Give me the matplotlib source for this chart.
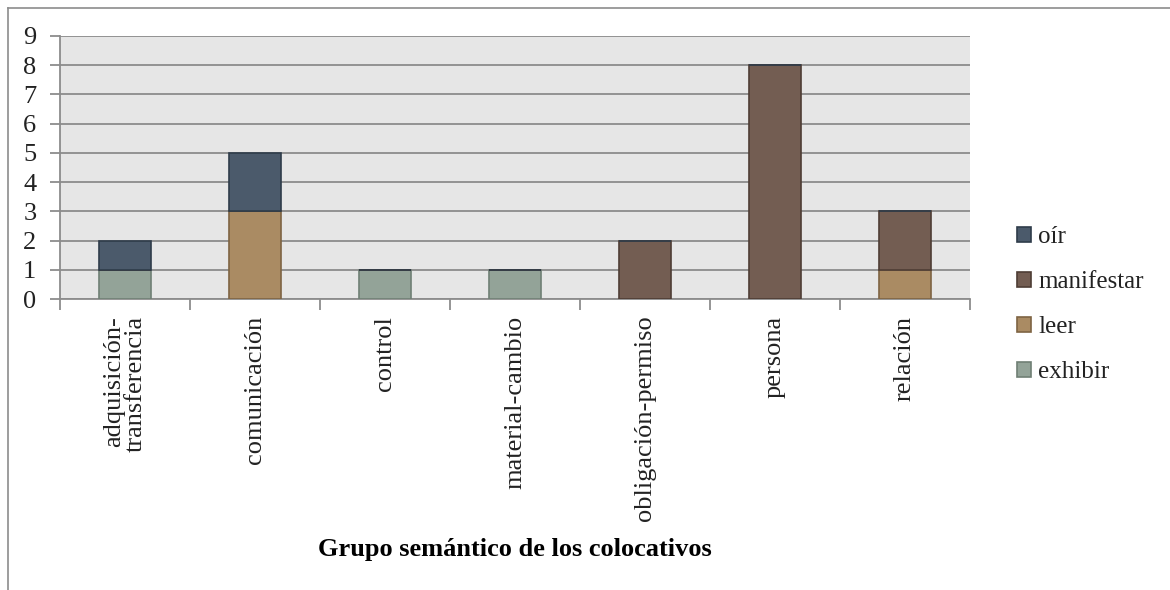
import matplotlib
matplotlib.use("Agg")
import matplotlib.pyplot as plt
import numpy as np

categories = ["adquisición-\ntransferencia", "comunicación", "control", "material-cambio",
              "obligación-permiso", "persona", "relación"]
exhibir = [1, 0, 1, 1, 0, 0, 0]
leer = [0, 3, 0, 0, 0, 0, 1]
manifestar = [0, 0, 0, 0, 2, 8, 2]
oir = [1, 2, 0, 0, 0, 0, 0]

series = [("exhibir", exhibir, "#93A398", "#6F7F74"),
          ("leer", leer, "#AA8B63", "#7E6443"),
          ("manifestar", manifestar, "#735D52", "#4E3D35"),
          ("oír", oir, "#4B5A6B", "#2F3C4A")]

plt.rcParams['font.family'] = ['Liberation Serif', 'DejaVu Serif']

fig = plt.figure(figsize=(11.7, 5.9), dpi=100)
ax = fig.add_axes([60/1170, 1-299/590, 910/1170, (299-36)/590])
ax.set_facecolor("#E6E6E6")

x = np.arange(len(categories))
bottom = np.zeros(len(categories))
handles = []
for name, vals, fc, ec in series:
    v = np.array(vals, dtype=float)
    b = ax.bar(x, v, 0.4, bottom=bottom, color=fc, edgecolor=ec, linewidth=1.2, zorder=3, label=name)
    bottom += v
    handles.append(b)

ax.set_xlim(-0.5, len(categories) - 0.5)
ax.set_ylim(0, 9)
ax.set_yticks(range(0, 10))
ax.yaxis.grid(True, color="#8C8C8C", linewidth=1.3, zorder=1)
ax.set_axisbelow(True)
for s in ["top", "right"]:
    ax.spines[s].set_visible(False)
for s in ["left", "bottom"]:
    ax.spines[s].set_color("#8C8C8C")
    ax.spines[s].set_linewidth(1.3)

ax.set_xticks(np.arange(-0.5, len(categories)), minor=False)
ax.set_xticklabels([""] * (len(categories) + 1))
ax.set_xticks(x, minor=True)
ax.set_xticklabels(categories, minor=True, rotation=90, fontsize=19, va="top", ha="center",
                   linespacing=0.95, multialignment="right")
ax.tick_params(axis="x", which="major", length=8, color="#8C8C8C", width=1.3)
ax.tick_params(axis="x", which="minor", length=0, pad=12)
ax.tick_params(axis="y", length=7, color="#8C8C8C", width=1.3, labelsize=19, pad=10)
for t in ax.get_yticklabels():
    t.set_color("#222222")
for t in ax.get_xticklabels(minor=True):
    t.set_color("#222222")

ax.set_xlabel("Grupo semántico de los colocativos", fontsize=19, fontweight="bold", labelpad=12)

leg = ax.legend(handles=handles[::-1], labels=[s[0] for s in series][::-1],
                loc="upper left", bbox_to_anchor=((1017 - 60) / 910, (299 - 226) / 263),
                frameon=False, borderaxespad=0, borderpad=0,
                fontsize=18, handlelength=0.55, handleheight=0.55, handletextpad=0.3,
                labelspacing=0.92)
for t in leg.get_texts():
    t.set_color("#222222")

# outer chart frame (left and top)
fig.add_artist(plt.Line2D([8/1170, 8/1170], [0, 1-8/590], color="#8C8C8C", linewidth=1.2, transform=fig.transFigure))
fig.add_artist(plt.Line2D([8/1170, 1], [1-8/590, 1-8/590], color="#8C8C8C", linewidth=1.2, transform=fig.transFigure))

fig.savefig("out.png", dpi=100)
